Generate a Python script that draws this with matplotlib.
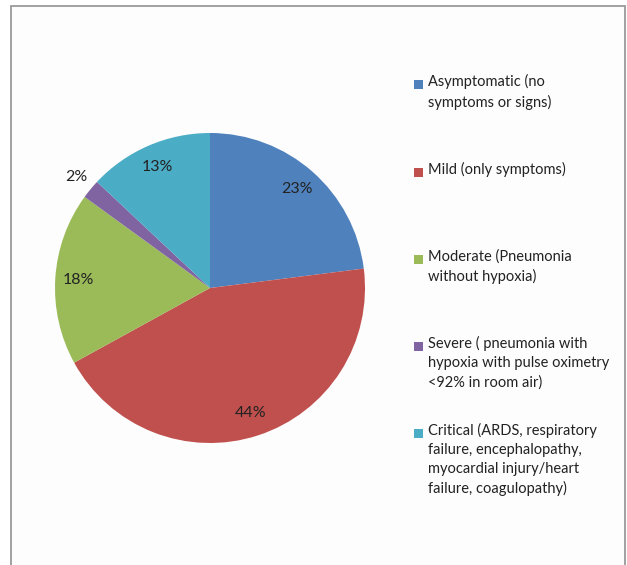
import numpy as np
import matplotlib
matplotlib.use("Agg")
import matplotlib.pyplot as plt
from matplotlib.patches import Rectangle

categories = [
    "Asymptomatic (no\nsymptoms or signs)",
    "Mild (only symptoms)",
    "Moderate (Pneumonia\nwithout hypoxia)",
    "Severe ( pneumonia with\nhypoxia with pulse oximetry\n<92% in room air)",
    "Critical (ARDS, respiratory\nfailure, encephalopathy,\nmyocardial injury/heart\nfailure, coagulopathy)",
]
values = [23, 44, 18, 2, 13]
pct_labels = ["23%", "44%", "18%", "2%", "13%"]
colors = ["#4F81BD", "#C0504D", "#9BBB59", "#8064A2", "#4BACC6"]

plt.rcParams['font.family'] = ['Lato', 'DejaVu Sans']

W, H = 627, 565
fig = plt.figure(figsize=(W / 100, H / 100), dpi=100)
fig.patch.set_facecolor("white")

# chart frame (bottom edge is cut off in the original)
fig.patches.append(Rectangle((11 / W, -0.02), (625 - 11) / W, 1 - 6 / H + 0.02,
                             transform=fig.transFigure, fill=True, zorder=-5,
                             facecolor="#FDFDFD", edgecolor="#9A9A9A", lw=1.3))

# pie: centre (210, 288) px, radius 155 px
cx, cy, r = 210, 288, 155
ax = fig.add_axes([(cx - r) / W, 1 - (cy + r) / H, 2 * r / W, 2 * r / H])
ax.set_zorder(2)
wedges, _ = ax.pie(values, colors=colors, startangle=90, counterclock=False,
                   radius=1, wedgeprops=dict(linewidth=0))
ax.set_xlim(-1, 1)
ax.set_ylim(-1, 1)
ax.set_aspect("equal")
ax.axis("off")

for w, lab, v in zip(wedges, pct_labels, values):
    ang = np.deg2rad((w.theta1 + w.theta2) / 2)
    d = 1.12 if v < 5 else 0.85
    ax.text(d * np.cos(ang), d * np.sin(ang), lab, ha="center", va="center",
            fontsize=11.5, color="#222222", clip_on=False)

# legend
leg_y = [84, 172, 259, 346, 433]
for lab, col, y in zip(categories, colors, leg_y):
    fig.patches.append(Rectangle((414 / W, 1 - (y + 4.5) / H), 9 / W, 9 / H,
                                 transform=fig.transFigure, facecolor=col,
                                 edgecolor="none", zorder=3))
    fig.text(428 / W, 1 - (y - 10) / H, lab, ha="left", va="top",
             fontsize=10.5, color="#222222", linespacing=1.45, zorder=3)

fig.savefig("out.png", dpi=100)
